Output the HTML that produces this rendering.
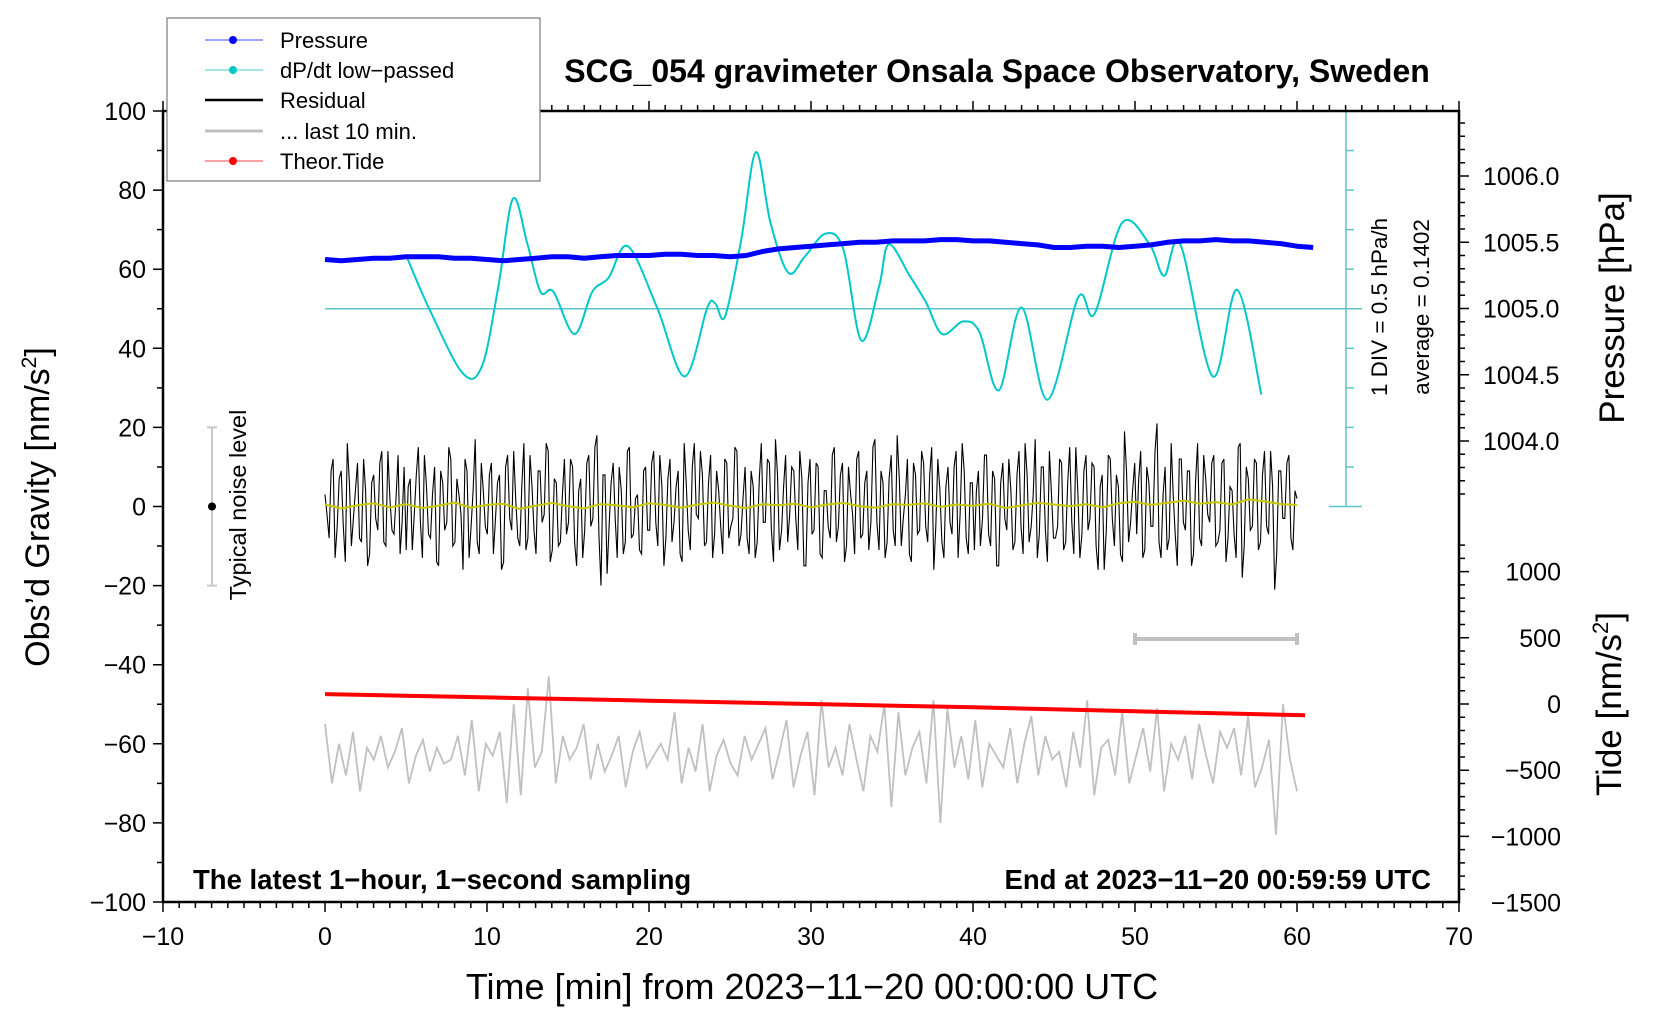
<!DOCTYPE html>
<html><head><meta charset="utf-8"><style>
html,body{margin:0;padding:0;background:#fff;}
svg{display:block;font-family:"Liberation Sans",sans-serif;}
</style></head><body>
<svg id="chart" width="1660" height="1020" viewBox="0 0 1660 1020" xmlns="http://www.w3.org/2000/svg">
<g id="grid"></g>
<g id="series"></g>
<g id="axes"></g>
<g id="labels"></g>
</svg>
<script>
// ---- data ----
const pressureHpa = [1005.37,1005.36,1005.37,1005.38,1005.38,1005.39,1005.39,1005.39,1005.38,1005.38,1005.37,
1005.36,1005.37,1005.38,1005.39,1005.39,1005.38,1005.39,1005.40,1005.40,1005.40,
1005.41,1005.41,1005.40,1005.40,1005.39,1005.40,1005.43,1005.45,1005.46,1005.47,
1005.48,1005.49,1005.50,1005.50,1005.51,1005.51,1005.51,1005.52,1005.52,1005.51,
1005.51,1005.50,1005.49,1005.48,1005.46,1005.46,1005.47,1005.47,1005.46,1005.47,
1005.48,1005.50,1005.51,1005.51,1005.52,1005.51,1005.51,1005.50,1005.49,1005.47,1005.46];
const dpdtTimes = [5.0,6.4,8.5,9.7,10.7,11.6,12.5,13.3,14.1,15.4,16.5,17.5,18.7,20.5,22.2,23.6,24.1,24.7,25.7,26.6,27.5,28.6,29.6,30.9,32.0,33.1,34.2,34.8,36.1,37.1,38.1,39.4,40.4,41.6,43.0,44.6,46.5,47.5,49.2,50.9,51.8,52.8,54.8,56.3,57.8];
const dpdtValues = [63.6,50.3,33.7,35.6,55.6,77.8,66.3,54.3,54.3,43.6,54.3,57.8,65.8,50.3,32.9,50.3,51.3,48.1,67.6,89.6,71.7,59.1,63.1,69.0,65.0,42.0,55.6,66.3,58.3,51.6,43.6,46.8,44.1,29.4,50.3,27.0,52.9,48.7,71.7,66.3,58.3,66.3,32.9,54.8,28.3];
const residual = [3,-8,12,-5,9,-14,6,-3,11,-9,4,-12,8,-6,14,-10,2,-7,13,-4,
-11,7,-2,15,-13,5,-8,10,-15,6,-4,12,-9,3,-16,9,-5,17,-12,4,
-7,11,-3,8,-14,13,-6,2,-10,16,-8,5,-12,9,-2,14,-11,6,-9,12,
-4,10,-15,7,-6,13,-3,18,-20,8,-5,11,-13,4,-9,15,-7,3,-12,10,
-6,14,-10,5,-8,12,-4,9,-14,6,-11,16,-3,8,-9,13,-7,4,-12,11,
-5,15,-10,2,-8,9,-13,7,-4,12,-6,17,-11,5,-9,10,-3,14,-15,6,
-7,11,-12,4,-5,13,-9,8,-14,10,-2,12,-8,6,-11,15,-4,9,-13,7,
-6,18,-10,3,-12,11,-7,14,-5,8,-16,12,-9,5,-4,10,-13,16,-8,6,
-11,9,-3,13,-10,7,-15,11,-6,4,-9,14,-12,8,-5,17,-7,10,-14,3,
-8,12,-11,6,-4,15,-13,9,-6,11,-10,5,-16,13,-3,8,-12,19,-9,4,
-7,14,-11,6,-5,21,-13,10,-8,3,-15,12,-6,9,-12,16,-10,7,-4,13,
-9,11,-14,5,-7,15,-18,10,-6,12,-11,8,-5,14,-21,9,-3,11,-8,4];
const residualB = [-2,9,-13,7,-5,16,-10,4,-8,12,-15,6,-3,11,-9,14,-6,2,-12,10,
5,-11,8,-4,13,-7,3,-14,9,-6,15,-10,7,-2,12,-13,4,-9,11,-5,
8,-12,6,-16,10,-3,14,-8,5,-11,13,-6,9,-4,16,-14,7,-10,3,-7,
12,-9,4,-13,11,-5,15,-7,8,-17,6,-3,10,-12,14,-8,2,-11,9,-6,
11,-4,13,-15,7,-9,5,-12,16,-6,10,-2,14,-10,6,-13,9,-5,12,-8,
-3,14,-7,10,-12,5,-9,16,-4,11,-14,8,-6,13,-2,9,-11,7,-15,12,
-6,10,-13,4,-8,15,-5,11,-10,3,-12,14,-7,9,-4,17,-11,6,-9,13,
-10,7,-3,12,-14,8,-6,11,-9,15,-5,4,-13,10,-7,14,-2,9,-12,6,
4,-10,13,-7,9,-15,6,-3,12,-11,8,-5,16,-9,3,-13,10,-6,14,-8,
-5,11,-9,15,-12,4,-7,13,-3,10,-16,8,-6,12,-10,5,-14,9,-4,11,
7,-13,10,-5,14,-9,3,-11,16,-7,12,-4,9,-15,6,-8,13,-2,11,-10,
-6,12,-8,4,-13,16,-10,7,-5,11,-9,14,-7,5,-12,9,-3,13,-11,2];
const lowpass = [0.5,-0.5,0.3,0.8,-0.2,0.6,-0.4,0.2,1.0,-0.3,0.4,0.7,-0.6,0.2,0.9,0.1,-0.5,0.6,0.3,-0.2,0.8,0.4,-0.3,0.5,1.0,0.2,-0.4,0.6,0.3,0.7,-0.2,0.5,0.9,0.1,-0.3,0.6,0.4,0.8,-0.1,0.5,0.2,0.7,-0.4,0.3,0.9,0.5,0.1,0.6,-0.2,0.8,1.2,0.4,0.9,1.5,0.7,1.1,0.5,1.8,1.3,0.6,0.4];
const last10 = [-55,-70,-60,-68,-57,-72,-61,-64,-58,-66,-62,-56,-70,-63,-59,-67,-61,-65,-64,-58,
-68,-54,-72,-60,-63,-57,-75,-50,-73,-46,-66,-62,-43,-70,-58,-64,-61,-55,-69,-60,
-67,-63,-58,-71,-62,-57,-66,-63,-60,-64,-52,-70,-61,-67,-55,-72,-63,-59,-65,-68,
-58,-64,-60,-56,-69,-62,-54,-71,-63,-57,-73,-49,-66,-61,-68,-55,-64,-72,-58,-62,
-50,-76,-52,-68,-61,-57,-70,-49,-80,-51,-66,-58,-69,-54,-71,-60,-63,-66,-56,-70,
-60,-53,-68,-58,-64,-62,-71,-57,-66,-49,-73,-61,-59,-68,-52,-70,-63,-56,-67,-51,
-72,-60,-64,-58,-69,-55,-63,-70,-57,-61,-56,-68,-53,-71,-66,-59,-83,-50,-64,-72];
const tideTimes = [0,10,20,30,40,50,60.5];
const tideValues = [75,50,25,0,-25,-55,-85];
const xTicks = [-10,0,10,20,30,40,50,60,70];
const gTicks = [-100,-80,-60,-40,-20,0,20,40,60,80,100];
const pTicks = ["1004.0","1004.5","1005.0","1005.5","1006.0"];
const tTicks = [-1500,-1000,-500,0,500,1000];

// ---- scales ----
const L=163,R=1459,T=111,B=902;
const xs = t => L + (t+10)*(R-L)/80;
const gy = g => T + (100-g)*(B-T)/200;
const py = p => 176 + (1006.0-p)*132.5;
const ty = v => 704 - v*66.2/500;
const NS="http://www.w3.org/2000/svg";
function el(tag,attrs,parent,text){const e=document.createElementNS(NS,tag);for(const k in attrs)e.setAttribute(k,attrs[k]);if(text!==undefined)e.textContent=text;parent.appendChild(e);return e;}
const gS=document.getElementById('series'),gA=document.getElementById('axes'),gL=document.getElementById('labels');

let e;
e=el('line',{x1:xs(0),x2:1362,y1:gy(50),y2:gy(50),stroke:'#5fc4c4','stroke-width':1.5},gS);


e=el('line',{x1:1346,x2:1346,y1:T,y2:gy(0),stroke:'#5fc4c4','stroke-width':1.5},gA);


for(let g=0;g<=100;g+=10){
  const cap=(g===0||g===100);
  e=el('line',{x1:cap?1329:1346,x2:cap?1362:1354,y1:gy(g),y2:gy(g),stroke:'#5fc4c4','stroke-width':1.5},gA);
  
  
}

// residual (two interleaved sample sets)
const resAll=[];
residual.forEach((v,i)=>{resAll.push(v);if(i<residualB.length)resAll.push(residualB[i]);});
let pts=resAll.map((v,i)=>xs(i*60/(resAll.length-1)).toFixed(1)+','+gy(v).toFixed(1)).join(' ');
e=el('polyline',{points:pts,fill:'none',stroke:'#000','stroke-width':1.1},gS);


pts=lowpass.map((v,i)=>xs(i*60/(lowpass.length-1)).toFixed(1)+','+gy(v).toFixed(1)).join(' ');
e=el('polyline',{points:pts,fill:'none',stroke:'#c8c800','stroke-width':2},gS);



pts=last10.map((v,i)=>xs(i*60/(last10.length-1)).toFixed(1)+','+gy(v).toFixed(1)).join(' ');
e=el('polyline',{points:pts,fill:'none',stroke:'#c0c0c0','stroke-width':1.8},gS);



pts=tideTimes.map((t,i)=>xs(t).toFixed(1)+','+ty(tideValues[i]).toFixed(1)).join(' ');
e=el('polyline',{points:pts,fill:'none',stroke:'#ff0000','stroke-width':4},gS);



const cp=dpdtTimes.map((t,i)=>[xs(t),gy(dpdtValues[i])]);
let d='M'+cp[0][0]+','+cp[0][1];
for(let i=0;i<cp.length-1;i++){
  const p0=cp[Math.max(0,i-1)],p1=cp[i],p2=cp[i+1],p3=cp[Math.min(cp.length-1,i+2)];
  d+=' C'+(p1[0]+(p2[0]-p0[0])/6)+','+(p1[1]+(p2[1]-p0[1])/6)+' '+(p2[0]-(p3[0]-p1[0])/6)+','+(p2[1]-(p3[1]-p1[1])/6)+' '+p2[0]+','+p2[1];
}
e=el('path',{d:d,fill:'none',stroke:'#00c8c8','stroke-width':2},gS);



pts=pressureHpa.map((v,i)=>xs(i).toFixed(1)+','+py(v).toFixed(1)).join(' ');
e=el('polyline',{points:pts,fill:'none',stroke:'#0000ff','stroke-width':5,'stroke-linejoin':'round'},gS);



e=el('path',{d:`M${xs(50)},${633}V${645}M${xs(50)},639H${xs(60)}M${xs(60)},633V645`,stroke:'#c0c0c0','stroke-width':4,fill:'none'},gS);


e=el('path',{d:`M207,${gy(20)}H217M212,${gy(20)}V${gy(-20)}M207,${gy(-20)}H217`,stroke:'#c8c8c8','stroke-width':2,fill:'none'},gS);


e=el('circle',{cx:212,cy:gy(0),r:4,fill:'#000'},gS);



e=el('rect',{x:L,y:T,width:R-L,height:B-T,fill:'none',stroke:'#000','stroke-width':2.5},gA);


let tk='';
for(let t=-10;t<=70;t++){const maj=t%10===0;tk+=`M${xs(t)},${B}v${maj?10:6}M${xs(t)},${T}v${maj?-10:-6}`;}
for(let g=-100;g<=100;g+=10){tk+=`M${L},${gy(g)}h${g%20===0?-10:-6}`;}
for(let p=1003.6;p<=1006.55;p+=0.1){const y=py(p);if(y>=T&&y<=520){const maj=Math.abs(p*2-Math.round(p*2))<0.01;tk+=`M${R},${y}h${maj?10:6}`;}}
for(let v=-1500;v<=1300;v+=100){const y=ty(v);if(y>=545&&y<=B){tk+=`M${R},${y}h${v%500===0?10:6}`;}}
e=el('path',{d:tk,stroke:'#000','stroke-width':1.5,fill:'none'},gA);



const fs=25;
xTicks.forEach(t=>{e=el('text',{x:xs(t),y:945,'font-size':fs,'text-anchor':'middle'},gL,t<0?'\u2212'+(-t):String(t));

});
gTicks.forEach(g=>{e=el('text',{x:L-17,y:gy(g)+9,'font-size':fs,'text-anchor':'end'},gL,g<0?'\u2212'+(-g):String(g));

});
pTicks.forEach(p=>{e=el('text',{x:1483,y:py(parseFloat(p))+9,'font-size':fs},gL,p);

});
tTicks.forEach(v=>{e=el('text',{x:1561,y:ty(v)+9,'font-size':fs,'text-anchor':'end'},gL,v<0?'\u2212'+(-v):String(v));

});
</script>
<div style="position:absolute;left:0;top:0;width:1660px;height:1020px;pointer-events:none;">
<svg width="1660" height="1020" style="font-family:'Liberation Sans',sans-serif;">
  <text x="997" y="82" font-size="32" font-weight="bold" text-anchor="middle">SCG_054 gravimeter Onsala Space Observatory, Sweden</text>
  <text transform="translate(49,507) rotate(-90)" font-size="34" text-anchor="middle">Obs’d Gravity [nm/s<tspan font-size="21" dy="-13">2</tspan><tspan dy="13">]</tspan></text>
  <text transform="translate(1624,308) rotate(-90)" font-size="35" text-anchor="middle">Pressure [hPa]</text>
  <text transform="translate(1621,704) rotate(-90)" font-size="35" text-anchor="middle">Tide [nm/s<tspan font-size="22" dy="-13">2</tspan><tspan dy="13">]</tspan></text>
  <text x="812" y="999" font-size="36" text-anchor="middle">Time [min] from 2023−11−20 00:00:00 UTC</text>
  <text x="193" y="889" font-size="27.5" font-weight="bold">The latest 1−hour, 1−second sampling</text>
  <text x="1431" y="889" font-size="27.5" font-weight="bold" text-anchor="end">End at 2023−11−20 00:59:59 UTC</text>
  <text transform="translate(246,505) rotate(-90)" font-size="23.5" text-anchor="middle">Typical noise level</text>
  <text transform="translate(1387,307) rotate(-90)" font-size="22.5" text-anchor="middle">1 DIV = 0.5 hPa/h</text>
  <text transform="translate(1429,307) rotate(-90)" font-size="22.5" text-anchor="middle">average = 0.1402</text>
  <g>
    <rect x="167" y="18" width="373" height="163" fill="#fff" stroke="#777" stroke-width="1.2"/>
    <g>
      <line x1="205" x2="263" y1="40" y2="40" stroke="#4444ff" stroke-width="1"/><circle cx="233" cy="40" r="4" fill="#0000ff"/>
      <text x="280" y="48" font-size="22">Pressure</text></g>
    <g>
      <line x1="205" x2="263" y1="70" y2="70" stroke="#44cccc" stroke-width="1"/><circle cx="233" cy="70" r="4" fill="#00c8c8"/>
      <text x="280" y="78" font-size="22">dP/dt low−passed</text></g>
    <g>
      <line x1="205" x2="263" y1="100" y2="100" stroke="#000" stroke-width="2.5"/>
      <text x="280" y="108" font-size="22">Residual</text></g>
    <g>
      <line x1="205" x2="263" y1="131" y2="131" stroke="#c0c0c0" stroke-width="3"/>
      <text x="280" y="139" font-size="22">... last 10 min.</text></g>
    <g>
      <line x1="205" x2="263" y1="161" y2="161" stroke="#ff4444" stroke-width="1"/><circle cx="233" cy="161" r="4" fill="#ff0000"/>
      <text x="280" y="169" font-size="22">Theor.Tide</text></g>
  </g>
</svg>
</div>
</body></html>
